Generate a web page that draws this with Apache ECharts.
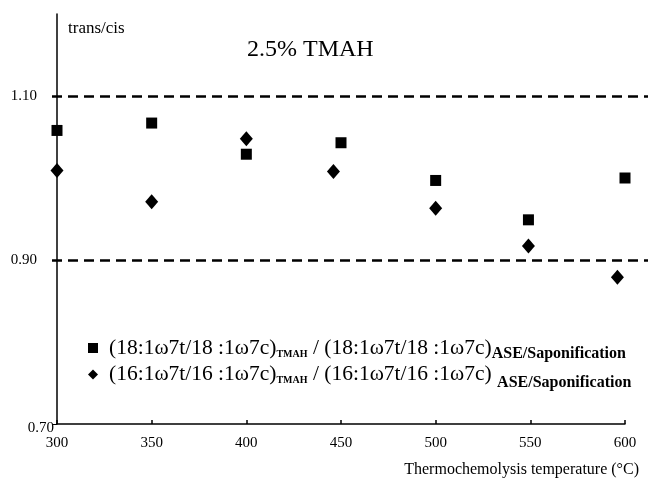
<!DOCTYPE html>
<html>
<head>
    <meta charset="utf-8" />
    <script src="https://cdn.jsdelivr.net/npm/echarts@6/dist/echarts.min.js"></script>
    <style>
        body { margin: 0; background: #fff; }
        #main { width: 648px; height: 479px; }
    </style>
</head>
<body>
    <div id="main"></div>
    <script type="text/javascript">
        // 数据
        var sqTemps = [300, 350, 400, 450, 500, 549, 600];
        var sqValues = [1.058, 1.067, 1.029, 1.043, 0.997, 0.949, 1.000];
        var diaTemps = [300, 350, 400, 446, 500, 549, 596];
        var diaValues = [1.009, 0.971, 1.048, 1.008, 0.963, 0.917, 0.879];
        var yTickValues = [0.7, 0.9, 1.1];
        var refLines = [1.1, 0.9];

        var sqName = "18";
        var diaName = "16";
        var legendText = {
            "18": "{g|}{n|(18:1ω7t/18 :1ω7c)}{s|TMAH}{n| / (18:1ω7t/18 :1ω7c)}{a|ASE/Saponification}",
            "16": "{g|}{n|(16:1ω7t/16 :1ω7c)}{s|TMAH}{n| / (16:1ω7t/16 :1ω7c) }{a2|ASE/Saponification}"
        };

        function pairs(xs, ys) {
            return xs.map(function (x, i) { return [x, ys[i]]; });
        }

        var font = "Liberation Serif";
        var chart = echarts.init(document.getElementById("main"));
        var option = {
            animation: false,
            textStyle: { fontFamily: font, color: "#000" },
            title: [
                { text: "2.5% TMAH", left: 242, top: 33, textStyle: { fontFamily: font, fontSize: 24, fontWeight: "normal", color: "#000" } },
                { text: "trans/cis", left: 63, top: 15, textStyle: { fontFamily: font, fontSize: 17, fontWeight: "normal", color: "#000" } },
                { text: "Thermochemolysis temperature (°C)", right: 4, top: 457, textStyle: { fontFamily: font, fontSize: 16, fontWeight: "normal", color: "#000" } }
            ],
            grid: [
                { left: 57, right: 23, top: 14, bottom: 55 },
                { left: 52, right: 0, top: 14, bottom: 55 }
            ],
            xAxis: [
                {
                    type: "value", gridIndex: 0, min: 300, max: 600, interval: 50,
                    axisLine: { lineStyle: { color: "#000", width: 1.5 } },
                    axisTick: { inside: true, length: 4, lineStyle: { color: "#000", width: 1.5 } },
                    axisLabel: { fontFamily: font, fontSize: 15, color: "#000", margin: 12 },
                    splitLine: { show: false }
                },
                { type: "value", gridIndex: 1, min: 0, max: 1, show: false }
            ],
            yAxis: [
                {
                    type: "value", gridIndex: 0, min: 0.7, max: 1.2, interval: 0.1,
                    axisLine: { show: true, lineStyle: { color: "#000", width: 1.5 } },
                    axisTick: { show: true, customValues: yTickValues, length: 4, lineStyle: { color: "#000" } },
                    axisLabel: {
                        customValues: yTickValues, fontFamily: font, fontSize: 15, color: "#000", margin: 3,
                        formatter: function (v) {
                            // 0.70 靠近坐标轴，其余标签左移
                            if (Math.abs(v - 0.7) < 1e-6) {
                                return "{low|" + v.toFixed(2) + "}";
                            }
                            return "{v|" + v.toFixed(2) + "}{sp|}";
                        },
                        rich: {
                            v: { fontFamily: font, fontSize: 15, color: "#000" },
                            sp: { width: 17 },
                            low: { fontFamily: font, fontSize: 15, color: "#000", padding: [8, 0, 0, 0] }
                        }
                    },
                    splitLine: { show: false }
                },
                { type: "value", gridIndex: 1, min: 0.7, max: 1.2, show: false }
            ],
            legend: {
                orient: "vertical",
                left: 83,
                top: 332,
                itemGap: 2,
                itemWidth: 10,
                itemHeight: 10,
                data: [
                    { name: sqName, icon: "rect" },
                    { name: diaName, icon: "diamond" }
                ],
                formatter: function (name) { return legendText[name]; },
                textStyle: {
                    fontFamily: font, fontSize: 21, color: "#000",
                    rich: {
                        g: { width: 6 },
                        n: { fontFamily: font, fontSize: 21.5, color: "#000" },
                        s: { fontFamily: font, fontSize: 10, fontWeight: "bold", color: "#000", padding: [12, 0, 0, 0] },
                        a: { fontFamily: font, fontSize: 16, fontWeight: "bold", color: "#000", padding: [11, 0, 0, 0] },
                        a2: { fontFamily: font, fontSize: 16, fontWeight: "bold", color: "#000", padding: [16, 0, 0, 0] }
                    }
                }
            },
            series: [
                {
                    name: sqName, type: "scatter", xAxisIndex: 0, yAxisIndex: 0,
                    symbol: "rect", symbolSize: 11,
                    itemStyle: { color: "#000", opacity: 1 },
                    data: pairs(sqTemps, sqValues)
                },
                {
                    name: diaName, type: "scatter", xAxisIndex: 0, yAxisIndex: 0,
                    symbol: "diamond", symbolSize: [13, 15],
                    itemStyle: { color: "#000", opacity: 1 },
                    data: pairs(diaTemps, diaValues)
                },
                {
                    name: "ref", type: "line", xAxisIndex: 1, yAxisIndex: 1,
                    data: [],
                    markLine: {
                        silent: true,
                        symbol: "none",
                        label: { show: false },
                        lineStyle: { color: "#000", width: 2.5, type: [10, 6] },
                        data: refLines.map(function (v) { return { yAxis: v }; })
                    }
                }
            ]
        };
        chart.setOption(option);
    </script>
</body>
</html>
